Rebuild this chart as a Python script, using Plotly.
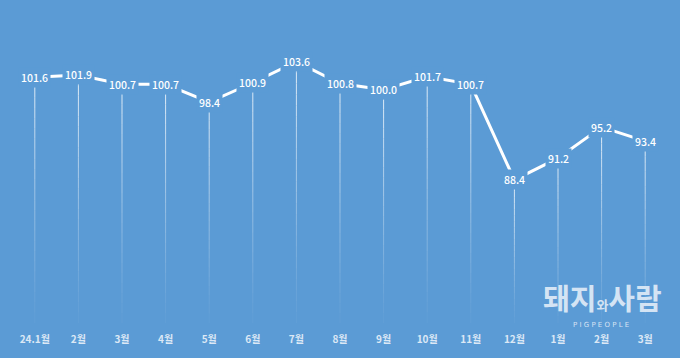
import plotly.graph_objects as go

months = ["24.1월", "2월", "3월", "4월", "5월", "6월", "7월", "8월", "9월", "10월", "11월", "12월", "1월", "2월", "3월"]
values = [101.6, 101.9, 100.7, 100.7, 98.4, 100.9, 103.6, 100.8, 100.0, 101.7, 100.7, 88.4, 91.2, 95.2, 93.4]

BG = "#5B9BD5"
Y_MIN, Y_MAX = 70, 110
xs = list(range(len(months)))

fig = go.Figure()

# fading drop lines
N = 24
for k in range(N):
    sx, sy = [], []
    for x, v in zip(xs, values):
        y0 = v - (v - Y_MIN) * k / N
        y1 = v - (v - Y_MIN) * (k + 1) / N
        sx += [x, x, None]
        sy += [y0, y1, None]
    alpha = 0.8 * (1 - k / N) ** 1.2 + 0.02
    fig.add_trace(go.Scatter(x=sx, y=sy, mode="lines",
                             line=dict(color=f"rgba(255,255,255,{alpha:.3f})", width=1),
                             hoverinfo="skip", showlegend=False))

fig.add_trace(go.Scatter(x=xs, y=values, mode="lines",
                         line=dict(color="white", width=3),
                         showlegend=False))

for x, v in zip(xs, values):
    fig.add_annotation(x=x, y=v, text=f"{v:.1f}", showarrow=False,
                       font=dict(family="Noto Sans CJK KR", size=10.5, color="white", weight=500),
                       bgcolor=BG, borderpad=2, xanchor="center", yanchor="middle")

# watermark
fig.add_annotation(xref="paper", yref="paper", x=0.995, y=0.01, text="<b>돼지<span style='font-size:13px'>와</span>사람</b>",
                   showarrow=False, xanchor="right", yanchor="bottom",
                   font=dict(family="Noto Sans CJK KR", size=29, color="rgba(235,242,250,0.85)"))
fig.add_annotation(xref="paper", yref="paper", x=0.945, y=0.012, text="P I G P E O P L E",
                   showarrow=False, xanchor="right", yanchor="top",
                   font=dict(family="DejaVu Sans", size=7, color="rgba(235,242,250,0.85)"))

fig.update_layout(
    width=680, height=358,
    margin=dict(l=13, r=13, t=12, b=30),
    paper_bgcolor=BG, plot_bgcolor=BG,
    xaxis=dict(range=[-0.5, len(months) - 0.5], tickvals=xs, ticktext=months,
               showgrid=False, zeroline=False, showline=False,
               ticks="outside", ticklen=7, tickcolor="rgba(0,0,0,0)",
               tickfont=dict(family="Noto Sans CJK KR", size=10, color="#DCE8F5", weight="bold")),
    yaxis=dict(range=[Y_MIN, Y_MAX], visible=False),
)

fig.write_html("out.html")
